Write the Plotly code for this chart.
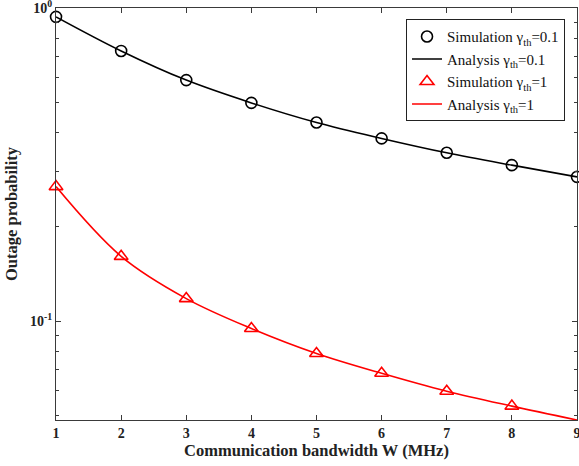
import plotly.graph_objects as go

bandwidth = [1, 2, 3, 4, 5, 6, 7, 8, 9]
sim_01 = [0.938, 0.730, 0.589, 0.498, 0.431, 0.3835, 0.345, 0.315, 0.289]
ana_01 = [0.938, 0.730, 0.589, 0.498, 0.431, 0.3835, 0.345, 0.315, 0.289]
sim_1 = [0.269, 0.161, 0.118, 0.0947, 0.0788, 0.0681, 0.0597, 0.0535, 0.0483]
ana_1 = [0.269, 0.161, 0.118, 0.0947, 0.0788, 0.0681, 0.0597, 0.0535, 0.0483]
x_ticks = [1, 2, 3, 4, 5, 6, 7, 8, 9]
y_ticks = [0.1, 1]
y_ticktext = ["10<sup>-1</sup>", "10<sup>0</sup>"]
y_minor = [0.05, 0.06, 0.07, 0.08, 0.09, 0.2, 0.3, 0.4, 0.5, 0.6, 0.7, 0.8, 0.9]

FONT = "Liberation Serif"
AX = "#3a3a3a"

fig = go.Figure()
fig.add_trace(go.Scatter(x=bandwidth, y=sim_01, mode="markers", cliponaxis=False,
                         name="Simulation γ<sub>th</sub>=0.1",
                         marker=dict(symbol="circle-open", size=11, color="black",
                                     line=dict(width=1.6, color="black"))))
fig.add_trace(go.Scatter(x=bandwidth, y=ana_01, mode="lines", cliponaxis=False,
                         name="Analysis γ<sub>th</sub>=0.1", line_shape="spline",
                         line=dict(color="black", width=1.6)))
fig.add_trace(go.Scatter(x=bandwidth, y=sim_1, mode="markers", cliponaxis=False,
                         name="Simulation γ<sub>th</sub>=1",
                         marker=dict(symbol="triangle-up-open", size=12, color="red",
                                     line=dict(width=1.6, color="red"))))
fig.add_trace(go.Scatter(x=bandwidth, y=ana_1, mode="lines", cliponaxis=False,
                         name="Analysis γ<sub>th</sub>=1", line_shape="spline",
                         line=dict(color="red", width=1.6)))

fig.update_layout(
    width=579, height=466,
    margin=dict(l=56, r=2, t=8, b=46),
    paper_bgcolor="white", plot_bgcolor="white",
    font=dict(family=FONT, color="#222"),
    showlegend=True,
    legend=dict(x=0.977, y=0.9726, xanchor="right", yanchor="top",
                bgcolor="white", bordercolor="#222", borderwidth=1,
                font=dict(family=FONT, size=15, color="#111"),
                tracegroupgap=0, itemwidth=30),
    xaxis=dict(range=[0.9995, 9.0005], tickvals=x_ticks, ticks="inside", ticklen=5,
               showline=True, linecolor=AX, linewidth=1, mirror="ticks",
               tickcolor=AX, showgrid=False, zeroline=False, ticklabeloverflow="allow",
               automargin=False,
               tickfont=dict(family=FONT, size=14, color="#222", weight="bold"),
               title=dict(text="<b>Communication bandwidth W (MHz)</b>",
                          font=dict(family=FONT, size=16.5, color="#222"), standoff=4)),
    yaxis=dict(type="log", range=[-1.316, 0.0005], tickvals=y_ticks, ticktext=y_ticktext,
               ticks="inside", ticklen=5, showline=True, linecolor=AX, linewidth=1,
               mirror="ticks", tickcolor=AX, showgrid=False, zeroline=False,
               ticklabeloverflow="allow", automargin=False,
               minor=dict(tickvals=y_minor, ticks="inside", ticklen=3, tickcolor=AX),
               tickfont=dict(family=FONT, size=14, color="#222", weight="bold"),
               title=dict(text="<b>Outage probability</b>",
                          font=dict(family=FONT, size=16.5, color="#222"), standoff=8)),
)

fig.write_html("out.html")
